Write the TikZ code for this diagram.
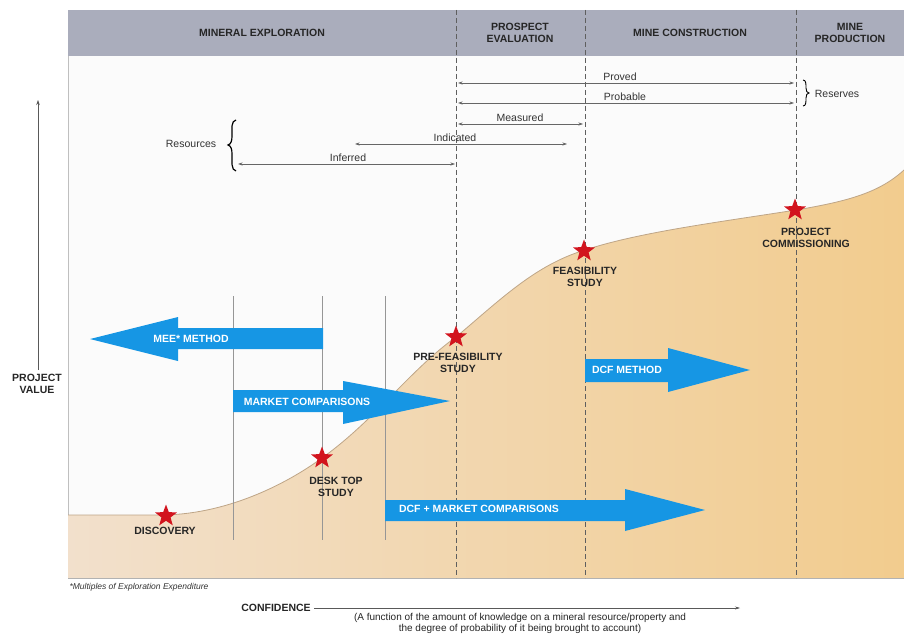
\documentclass[tikz,border=0pt]{standalone}
\usepackage{fontspec}
\setmainfont{Liberation Sans}
\usetikzlibrary{shapes.geometric,arrows.meta}
\definecolor{hdr}{RGB}{170,173,188}
\definecolor{panelbg}{RGB}{251,251,251}
\definecolor{fillL}{RGB}{242,224,204}
\definecolor{fillR}{RGB}{242,204,142}
\definecolor{curveln}{RGB}{190,165,135}
\definecolor{bluearrow}{RGB}{22,150,228}
\definecolor{starred}{RGB}{210,20,30}
\definecolor{dashgray}{RGB}{95,95,95}
\definecolor{thingray}{RGB}{150,150,150}
\tikzset{
  hdrtxt/.style={font=\bfseries\fontsize{10.5}{11.5}\selectfont, align=center, text=black!85},
  mlabel/.style={font=\bfseries\fontsize{10.5}{11.5}\selectfont, align=center, text=black!85},
  rlabel/.style={font=\fontsize{10.5}{11.5}\selectfont, text=black!80},
  warrow/.style={font=\bfseries\fontsize{10.5}{11.5}\selectfont, text=white},
  bigarrow/.style={fill=bluearrow, draw=none},
  rangearrow/.style={draw=gray!80!black, line width=0.6pt, {Stealth[length=4.5pt,width=3pt]}-{Stealth[length=4.5pt,width=3pt]}},
  phase/.style={draw=dashgray, line width=0.9pt, dash pattern=on 5pt off 3pt},
  thinv/.style={draw=thingray, line width=0.5pt},
  mstar/.style={star, star points=5, star point ratio=2.4, fill=starred, draw=none, minimum size=23pt, inner sep=0pt}
}
\begin{document}
\begin{tikzpicture}[x=1pt,y=-1pt]
\useasboundingbox (0,0) rectangle (904,636);
\fill[white] (0,0) rectangle (904,636);
% panel
\fill[panelbg] (68,56) rectangle (904,578);
\fill[hdr] (68,10) rectangle (904,56);
\draw[gray!50, line width=0.6pt] (68,56) -- (68,578);
% filled area under curve
\shade[left color=fillL, right color=fillR]
  (68,578) -- (68,515) -- (160,515) .. controls (225,515) and (285,485) .. (322,458)
  .. controls (375,420) and (410,370) .. (456,337)
  .. controls (500,300) and (535,265) .. (585,250)
  .. controls (640,232) and (720,222) .. (796,210)
  .. controls (850,201) and (880,192) .. (904,170) -- (904,578) -- cycle;
\draw[curveln, line width=0.8pt]
  (68,515) -- (160,515) .. controls (225,515) and (285,485) .. (322,458)
  .. controls (375,420) and (410,370) .. (456,337)
  .. controls (500,300) and (535,265) .. (585,250)
  .. controls (640,232) and (720,222) .. (796,210)
  .. controls (850,201) and (880,192) .. (904,170);
\draw[gray!60, line width=0.7pt] (68,578) -- (904,578);
% thin vertical lines
\draw[thinv] (233,296) -- (233,540);
\draw[thinv] (322,296) -- (322,540);
\draw[thinv] (385,296) -- (385,540);
% phase dashed lines
\draw[phase] (456,10) -- (456,578);
\draw[phase] (585,10) -- (585,578);
\draw[phase] (796,10) -- (796,578);
% header labels
\node[hdrtxt] (hME) at (262,33) {MINERAL EXPLORATION};
\node[hdrtxt] (hPE) at (520,33) {PROSPECT\\EVALUATION};
\node[hdrtxt] (hMC) at (690,33) {MINE CONSTRUCTION};
\node[hdrtxt] (hMP) at (850,33) {MINE\\PRODUCTION};
% reserve / resource ranges
\coordinate (prA) at (458,83); \coordinate (prB) at (794,83);
\coordinate (pbA) at (458,103); \coordinate (pbB) at (794,103);
\coordinate (meA) at (458,124); \coordinate (meB) at (583,124);
\coordinate (inA) at (355,144); \coordinate (inB) at (567,144);
\coordinate (ifA) at (238,164); \coordinate (ifB) at (455,164);
\draw[rangearrow] (prA) -- (prB);
\draw[rangearrow] (pbA) -- (pbB);
\draw[rangearrow] (meA) -- (meB);
\draw[rangearrow] (inA) -- (inB);
\draw[rangearrow] (ifA) -- (ifB);
\node[rlabel] (lPr) at (620,77) {Proved};
\node[rlabel] (lPb) at (625,97) {Probable};
\node[rlabel] (lMe) at (520,118) {Measured};
\node[rlabel] (lIn) at (455,138) {Indicated};
\node[rlabel] (lIf) at (348,158) {Inferred};
% braces
\draw[black, line width=1.2pt] (236,120) .. controls (231,121) and (232,128) .. (232,136)
  .. controls (232,141) and (231,144) .. (228,145)
  .. controls (231,146) and (232,149) .. (232,154)
  .. controls (232,162) and (231,170) .. (236,171);
\node[rlabel] (lRes) at (191,144) {Resources};
\draw[black, line width=0.9pt] (803,80) .. controls (806,80) and (806,84) .. (806,88)
  .. controls (806,91) and (807,93) .. (809,93)
  .. controls (807,93) and (806,95) .. (806,98)
  .. controls (806,102) and (806,106) .. (803,106);
\node[rlabel] (lRsv) at (837,94) {Reserves};
% y axis
\coordinate (yA) at (38,370); \coordinate (yB) at (38,100);
\draw[gray!70!black, line width=0.6pt, -{Stealth[length=5pt,width=3.5pt]}] (yA) -- (yB);
\node[mlabel] (pv) at (37,384) {PROJECT\\VALUE};
% blue arrows
\fill[bigarrow] (323,328) -- (178,328) -- (178,317) -- (90,339) -- (178,361) -- (178,349) -- (323,349) -- cycle;
\node[warrow] (tMEE) at (191,339) {MEE* METHOD};
\fill[bigarrow] (233,390) -- (343,390) -- (343,381) -- (450,401) -- (343,424) -- (343,412) -- (233,412) -- cycle;
\node[warrow] (tMC) at (307,402) {MARKET COMPARISONS};
\fill[bigarrow] (585,359) -- (668,359) -- (668,348) -- (750,370) -- (668,392) -- (668,382) -- (585,382) -- cycle;
\node[warrow] (tDCF) at (627,370) {DCF METHOD};
\fill[bigarrow] (385,500) -- (625,500) -- (625,489) -- (705,510) -- (625,531) -- (625,521) -- (385,521) -- cycle;
\node[warrow] (tDCFM) at (479,509) {DCF + MARKET COMPARISONS};
% stars
\node[mstar] (sDisc) at (166,516) {};
\node[mstar] (sDesk) at (322,458) {};
\node[mstar] (sPre) at (456,337) {};
\node[mstar] (sFeas) at (584,251) {};
\node[mstar] (sComm) at (795,210) {};
\node[mlabel] (lDisc) at (165,531) {DISCOVERY};
\node[mlabel] (lDesk) at (336,487) {DESK TOP\\STUDY};
\node[mlabel] (lPre) at (458,363) {PRE-FEASIBILITY\\STUDY};
\node[mlabel] (lFeas) at (585,277) {FEASIBILITY\\STUDY};
\node[mlabel] (lComm) at (806,238) {PROJECT\\COMMISSIONING};
% footnote and confidence axis
\node[anchor=west, font=\itshape\fontsize{8.5}{9.5}\selectfont, text=black!80] (fn) at (66,587) {*Multiples of Exploration Expenditure};
\node[mlabel] (conf) at (276,608) {CONFIDENCE};
\coordinate (cEnd) at (740,608);
\draw[gray!70!black, line width=0.5pt, -{Stealth[length=5pt,width=3pt]}] (conf.east) -- (cEnd);
\node[font=\fontsize{10}{11}\selectfont, align=center, text=black!85, anchor=north, inner sep=1pt] (cdesc) at (520,612) {(A function of the amount of knowledge on a mineral resource/property and\\the degree of probability of it being brought to account)};
\end{tikzpicture}
\end{document}
